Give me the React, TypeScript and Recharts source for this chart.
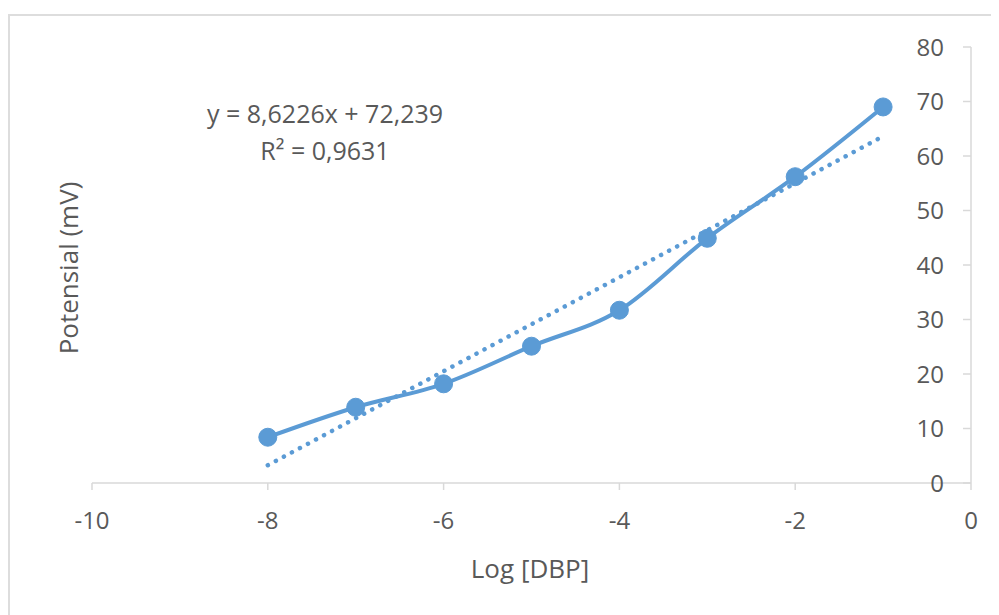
import React from "react";
import { ComposedChart, Line, XAxis, YAxis } from "recharts";

const logDbp = [-8, -7, -6, -5, -4, -3, -2, -1];
const potential = [8.4, 13.9, 18.2, 25.1, 31.7, 44.9, 56.2, 69.0];
const trendX = [-8, -1];
const trendY = [3.26, 63.62];
const xTicks = [-10, -8, -6, -4, -2, 0];
const yTicks = [0, 10, 20, 30, 40, 50, 60, 70, 80];
const equationText = "y = 8,6226x + 72,239";
const r2Text = "R² = 0,9631";

const dataRows = logDbp.map((x, i) => ({ x, y: potential[i] }));
const trendRows = trendX.map((x, i) => ({ x, t: trendY[i] }));

const BLUE = "#5B9BD5";
const AXIS = "#D9D9D9";
const TEXT = "#595959";
const FONT = "'Open Sans', 'Noto Sans', sans-serif";

export default function App() {
  return (
    <div style={{ position: "relative", width: 991, height: 607, overflow: "hidden", fontFamily: FONT }}>
      <div
        style={{
          position: "absolute",
          left: 0,
          top: 6,
          width: 1100,
          height: 700,
          border: "2px solid #DDDDDD",
          boxSizing: "border-box",
        }}
      />
      <ComposedChart
        width={991}
        height={607}
        margin={{ top: 39, right: 28, bottom: 72, left: 84 }}
        style={{ position: "absolute", left: 0, top: 0 }}
      >
        <XAxis
          type="number"
          dataKey="x"
          domain={[-10, 0]}
          ticks={xTicks}
          allowDataOverflow
          height={60}
          stroke={AXIS}
          strokeWidth={1.5}
          tickSize={7}
          tickMargin={22}
          tick={{ fill: TEXT, fontSize: 24, fontFamily: FONT }}
          tickLine={{ stroke: AXIS, strokeWidth: 1.5 }}
        />
        <YAxis
          type="number"
          orientation="right"
          mirror
          width={1}
          domain={[0, 80]}
          ticks={yTicks}
          allowDataOverflow
          stroke={AXIS}
          strokeWidth={1.5}
          tickSize={8}
          tickMargin={19}
          tick={{ fill: TEXT, fontSize: 24, fontFamily: FONT }}
          tickLine={{ stroke: AXIS, strokeWidth: 1.5 }}
        />
        <Line
          data={trendRows}
          dataKey="t"
          type="linear"
          stroke={BLUE}
          strokeWidth={4.5}
          strokeDasharray="0.1 9"
          strokeLinecap="round"
          dot={false}
          activeDot={false}
          isAnimationActive={false}
        />
        <Line
          data={dataRows}
          dataKey="y"
          type="monotone"
          stroke={BLUE}
          strokeWidth={4}
          dot={{ r: 9, fill: BLUE, stroke: BLUE, strokeWidth: 1 }}
          activeDot={false}
          isAnimationActive={false}
        />
      </ComposedChart>
      <div
        style={{
          position: "absolute",
          left: 317,
          top: 88,
          transform: "translateX(-50%)",
          whiteSpace: "nowrap",
          fontSize: 25,
          color: TEXT,
          lineHeight: "34px",
          textAlign: "center",
        }}
      >
        <div>{equationText}</div>
        <div style={{ marginTop: 3 }}>{r2Text}</div>
      </div>
      <div
        style={{
          position: "absolute",
          left: 522,
          top: 542,
          transform: "translateX(-50%)",
          whiteSpace: "nowrap",
          fontSize: 26,
          color: TEXT,
          lineHeight: "36px",
        }}
      >
        Log [DBP]
      </div>
      <div
        style={{
          position: "absolute",
          left: 60,
          top: 260,
          transform: "translate(-50%, -50%) rotate(-90deg)",
          whiteSpace: "nowrap",
          fontSize: 26,
          color: TEXT,
          lineHeight: "36px",
        }}
      >
        Potensial (mV)
      </div>
    </div>
  );
}
